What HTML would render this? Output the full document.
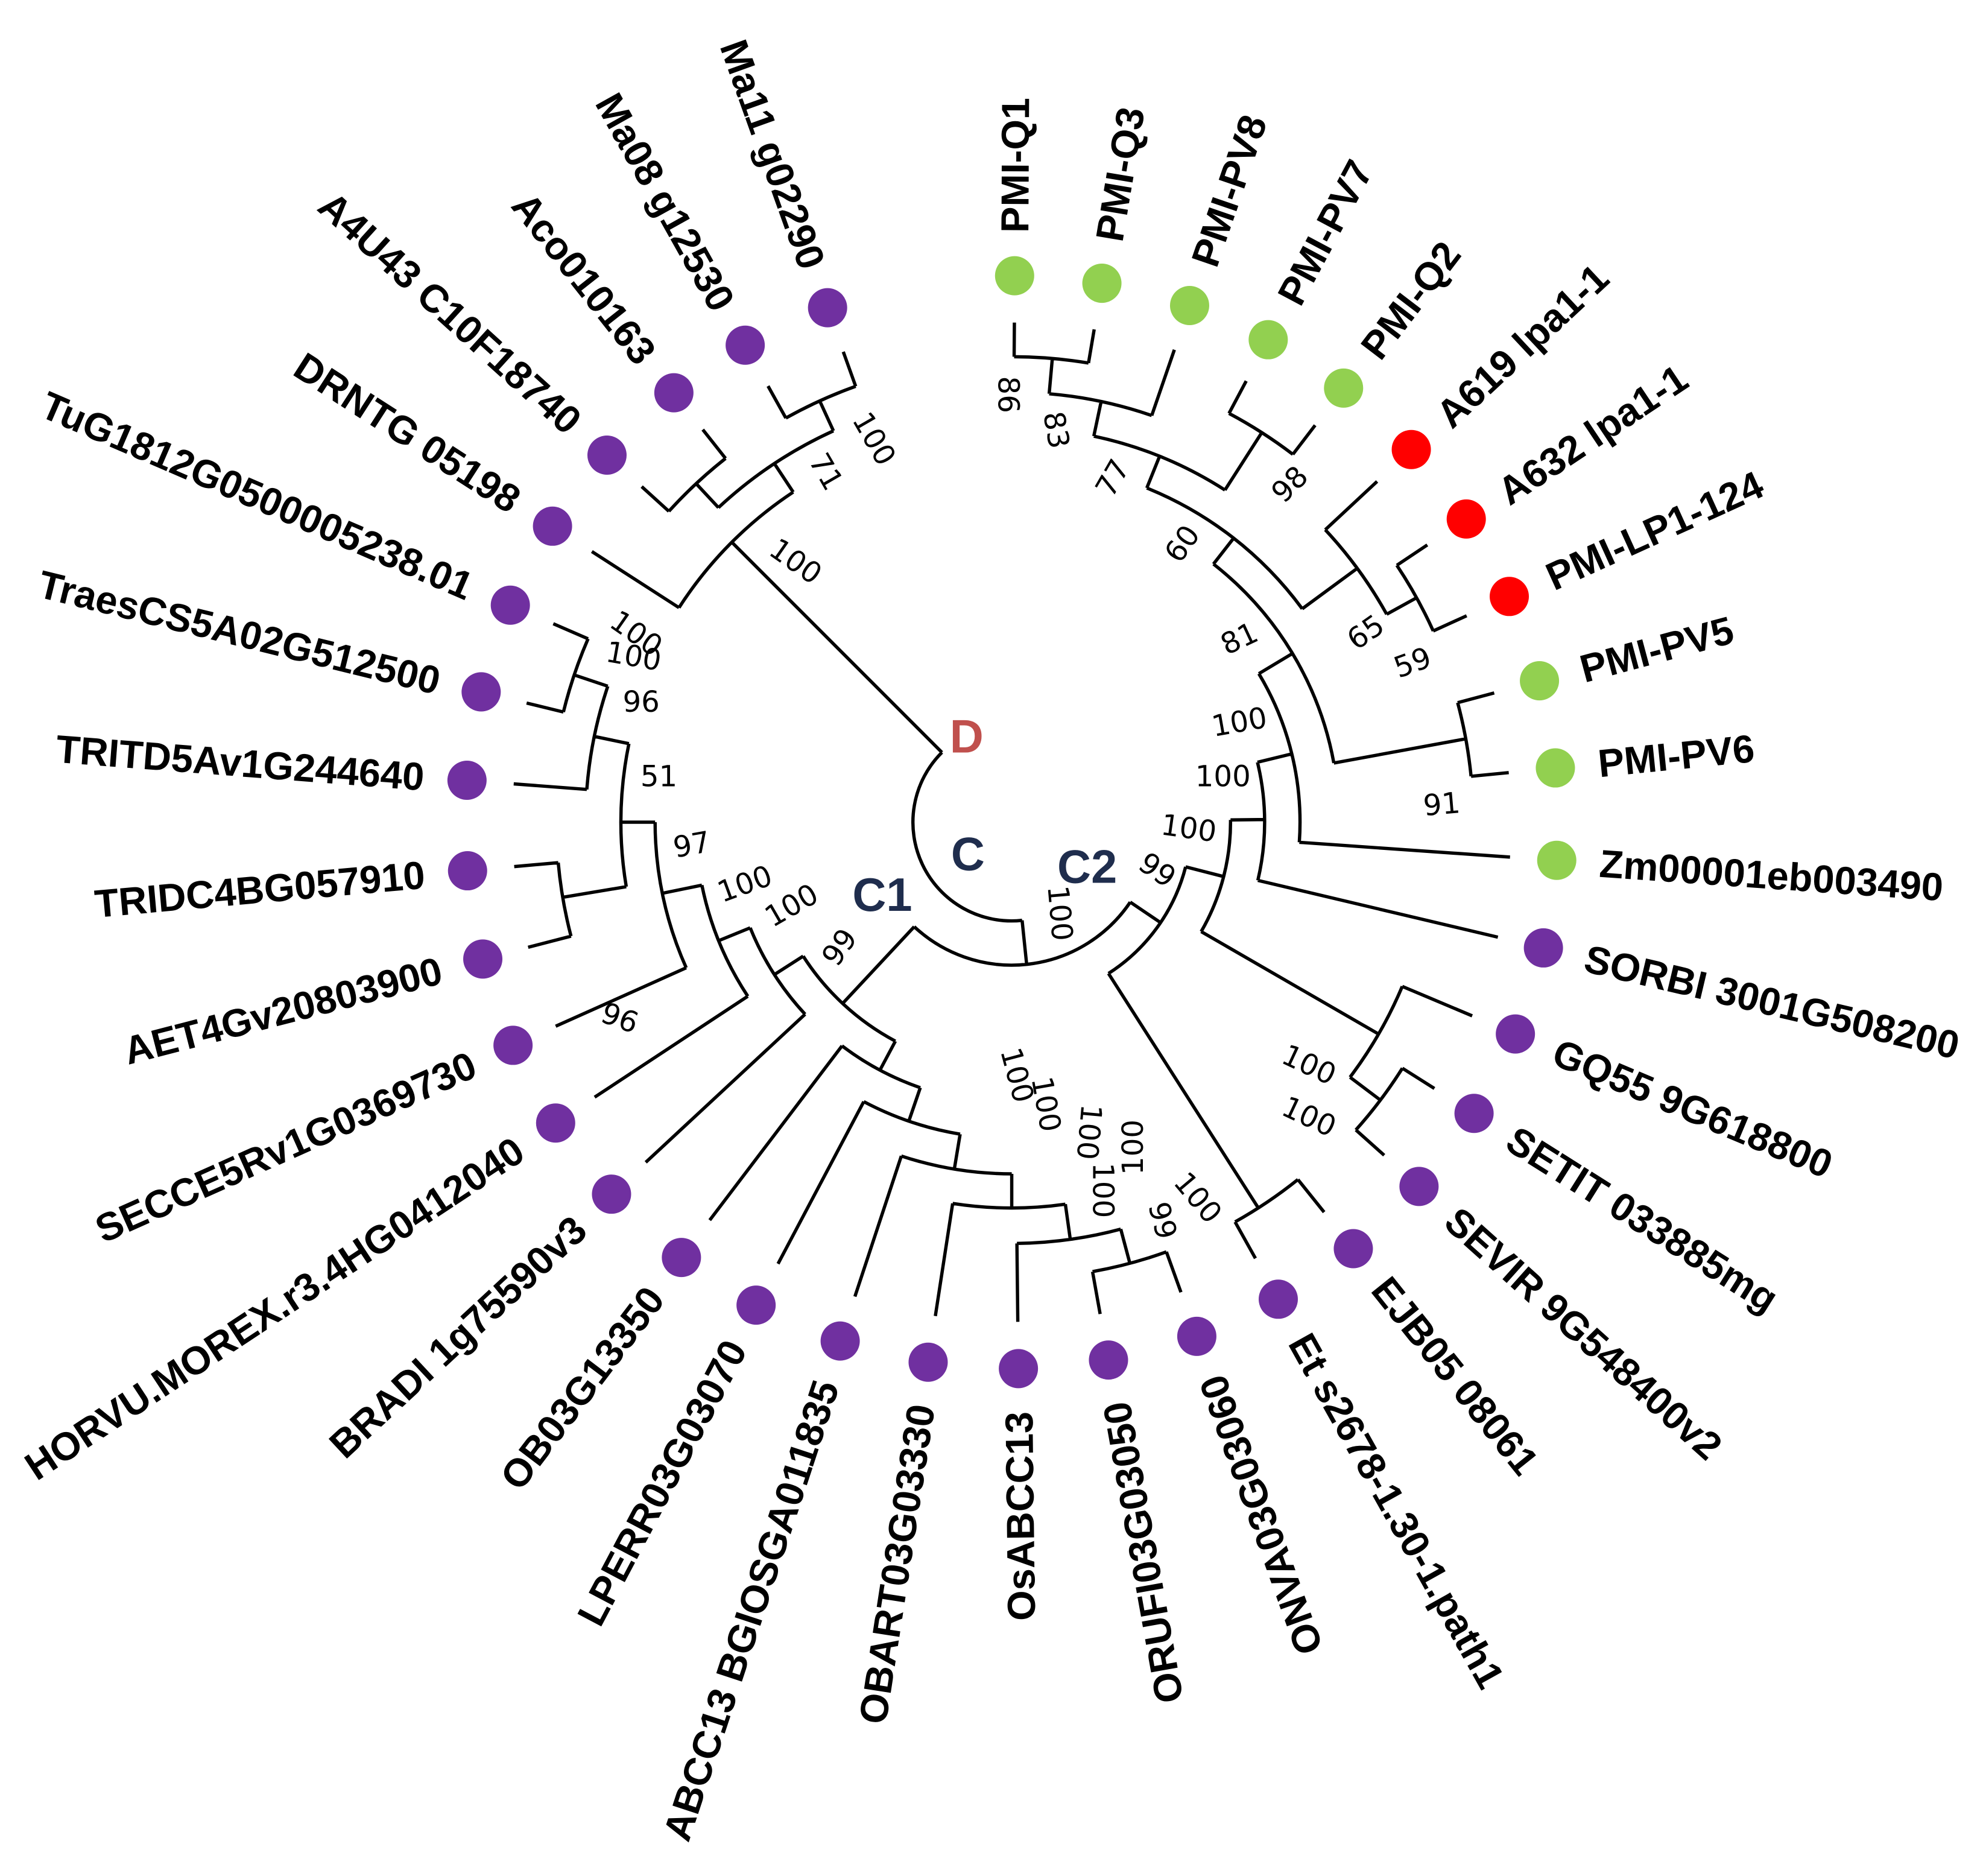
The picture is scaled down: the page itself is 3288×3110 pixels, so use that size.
<!DOCTYPE html>
<html><head><meta charset="utf-8"><style>
html,body{margin:0;padding:0;background:#fff;}
svg{display:block;}
.lf{font-family:"Liberation Sans",Arial,sans-serif;font-weight:bold;font-size:31px;fill:#000;}
.bs{font-family:"DejaVu Sans","Liberation Sans",sans-serif;font-size:23px;fill:#000;}
.cl{font-family:"Liberation Sans",sans-serif;font-weight:bold;font-size:37px;fill:#1f2d4d;}
</style></head><body>
<svg id="s" xmlns="http://www.w3.org/2000/svg" width="3288" height="3110" viewBox="0 0 1568 1483.1" preserveAspectRatio="none">
<rect width="1568" height="1483.1" fill="#fff"/>
<g id="tree" fill="none" stroke="#000" stroke-width="2.6"></g>
<g id="dots"></g>
<g id="labs"></g>
<g id="bss"></g>
<text class="cl" x="751" y="595" style="fill:#c0504d">D</text>
<text class="cl" x="752" y="688">C</text>
<text class="cl" x="674" y="720">C1</text>
<text class="cl" x="836" y="698">C2</text>
</svg>
<script>
var CX=800,CY=650,NS="http://www.w3.org/2000/svg";
function P(r,a){var t=a*Math.PI/180;return [CX+r*Math.cos(t),CY+r*Math.sin(t)];}
var d="";
function arc(r,a1,a2){var p=P(r,a1),q=P(r,a2);var sw=a2>a1?1:0,lg=Math.abs(a2-a1)>180?1:0;
d+="M"+p[0].toFixed(1)+" "+p[1].toFixed(1)+"A"+r+" "+r+" 0 "+lg+" "+sw+" "+q[0].toFixed(1)+" "+q[1].toFixed(1);}
function rad(a,r1,r2){var p=P(r1,a),q=P(r2,a);d+="M"+p[0].toFixed(1)+" "+p[1].toFixed(1)+"L"+q[0].toFixed(1)+" "+q[1].toFixed(1);}
var L=395;
var leaves=[
["PMI-Q1",-89.7,"g"],["PMI-Q3",-80.5,"g"],["PMI-PV8",-71,"g"],["PMI-PV7",-62,"g"],["PMI-Q2",-52.6,"g"],
["A619 lpa1-1",-43,"r"],["A632 lpa1-1",-33.7,"r"],["PMI-LP1-124",-24.4,"r"],["PMI-PV5",-15,"g"],["PMI-PV6",-5.7,"g"],
["Zm00001eb003490",4,"g"],["SORBI 3001G508200",13.3,"p"],["GQ55 9G618800",22.8,"p"],["SETIT 033885mg",32.2,"p"],
["SEVIR 9G548400v2",41.8,"p"],["EJB05 08061",51.3,"p"],["Et s2678-1.30-1.path1",60.8,"p"],["ONVA03G03060",70.2,"p"],
["ORUFI03G03050",79.8,"p"],["OsABCC13",89.3,"p"],["OBART03G03330",98.8,"p"],["ABCC13 BGIOSGA011835",108.3,"p"],
["LPERR03G03070",117.9,"p"],["OB03G13350",127.2,"p"],["BRADI 1g75590v3",137.1,"p"],["HORVU.MOREX.r3.4HG0412040",146.6,"p"],
["SECCE5Rv1G0369730",155.9,"p"],["AET4Gv20803900",165.5,"p"],["TRIDC4BG057910",174.9,"p"],["TRITD5Av1G244640",184.4,"p"],
["TraesCS5A02G512500",193.8,"p"],["TuG1812G0500005238.01",203.4,"p"],["DRNTG 05198",212.8,"p"],["A4U43 C10F18740",222.2,"p"],
["Aco010163",231.8,"p"],["Ma08 g12530",240.8,"p"],["Ma11 g02290",250.3,"p"]];
var col={g:"#92d050",r:"#ff0000",p:"#7030a0"};
arc(78,84,225);rad(225,78,313);
arc(313,212.8,236.5);rad(212.8,313,L);rad(236.5,313,340);
arc(340,227,245.5);rad(227,340,366);rad(245.5,340,366);
arc(366,222.2,231.8);rad(222.2,366,L);rad(231.8,366,L);
arc(366,240.8,250.3);rad(240.8,366,L);rad(250.3,366,L);
rad(84,78,113);arc(113,34,133);
rad(133,113,196);arc(196,118,147.3);
rad(118,196,222);arc(222,109,127.2);rad(127.2,222,L);
rad(109,222,250);arc(250,99.4,117.9);rad(117.9,250,L);
rad(99.4,250,278);arc(278,90,108.3);rad(108.3,278,L);
rad(90,278,305);arc(305,82,98.8);rad(98.8,305,L);
rad(82,305,333);arc(333,75,89.3);rad(89.3,333,L);
rad(75,333,361);arc(361,70.2,79.8);rad(70.2,361,L);rad(79.8,361,L);
rad(147.3,196,223);arc(223,137.1,158);rad(137.1,223,L);
rad(158,223,250);arc(250,146.6,168.5);rad(146.6,250,L);
rad(168.5,250,282);arc(282,155.9,180);rad(155.9,282,L);
rad(180,282,309);arc(309,170.5,191.6);
rad(170.5,309,360);arc(360,165.5,174.9);rad(165.5,360,L);rad(174.9,360,L);
rad(191.6,309,337);arc(337,184.4,198.6);rad(184.4,337,L);
rad(198.6,337,365);arc(365,193.8,203.4);rad(193.8,365,L);rad(203.4,365,L);
rad(34,113,142);arc(142,14.4,57.4);
rad(57.4,142,362);arc(362,51.3,60.8);rad(51.3,362,L);rad(60.8,362,L);
rad(14.4,142,173);arc(173,-0.6,30);
rad(30,173,335);arc(335,22.8,37);rad(22.8,335,L);rad(37,335,365);arc(365,32.2,41.8);rad(32.2,365,L);rad(41.8,365,L);
rad(-0.6,173,200);arc(200,-13.7,13.3);rad(13.3,200,L);
rad(-13.7,200,228);arc(228,-31,4);rad(4,228,L);
rad(-31,228,259);arc(259,-52,-10.4);rad(-10.4,259,365);arc(365,-15,-5.7);rad(-15,365,L);rad(-5.7,365,L);
rad(-52,259,285);arc(285,-68,-36.3);
rad(-36.3,285,339);arc(339,-43,-29);rad(-43,339,L);rad(-29,339,366);arc(366,-33.7,-24.4);rad(-33.7,366,L);rad(-24.4,366,L);
rad(-68,285,312);arc(312,-78,-57.3);
rad(-57.3,312,366);arc(366,-62,-52.6);rad(-62,366,L);rad(-52.6,366,L);
rad(-78,312,340);arc(340,-85,-71);rad(-71,340,L);
rad(-85,340,368);arc(368,-89.7,-80.5);rad(-89.7,368,L);rad(-80.5,368,L);
var pth=document.createElementNS(NS,"path");pth.setAttribute("d",d);document.getElementById("tree").appendChild(pth);
var dg=document.getElementById("dots"),lg=document.getElementById("labs");
leaves.forEach(function(l){
 var p=P(432,l[1]);var c=document.createElementNS(NS,"circle");
 c.setAttribute("cx",p[0]);c.setAttribute("cy",p[1]);c.setAttribute("r",15.5);c.setAttribute("fill",col[l[2]]);dg.appendChild(c);
 var q=P(466,l[1]);var t=document.createElementNS(NS,"text");t.setAttribute("class","lf");
 t.setAttribute("x",q[0]);t.setAttribute("y",q[1]);t.setAttribute("dominant-baseline","central");
 var a=l[1];if(a>65){t.setAttribute("text-anchor","end");a=a-180;}else{t.setAttribute("text-anchor","start");}
 t.setAttribute("transform","rotate("+a+" "+q[0]+" "+q[1]+")");t.textContent=l[0];lg.appendChild(t);
});
var bs=[
["100",691,347,60],["71",653,373,60],["100",629,444,35],["100",503,501,35],["100",501,519,10],["96",507,555,0],["51",521,614,0],
["97",547,668,-10],["100",589,699,-20],["100",626,716,-30],["99",664,749,-55],["96",490,805,20],
["86",797,312,90],["83",835,340,80],["77",880,378,-60],["98",1020,383,-45],["60",935,430,-55],["81",980,505,-25],
["65",1080,500,-35],["59",1117,524,-20],["100",980,571,-10],["100",967,614,0],["100",940,655,8],["99",915,688,35],
["100",838,722,85],["91",1140,636,-5],["100",1035,842,25],["100",1035,883,25],
["100",804,850,75],["100",827,873,80],["100",861,895,95],["100",896,907,-90],["100",872,941,90],["99",919,965,75],["100",947,947,50]];
var bg=document.getElementById("bss");
bs.forEach(function(b){var t=document.createElementNS(NS,"text");t.setAttribute("class","bs");
 t.setAttribute("x",b[1]);t.setAttribute("y",b[2]);t.setAttribute("text-anchor","middle");t.setAttribute("dominant-baseline","central");
 t.setAttribute("transform","rotate("+b[3]+" "+b[1]+" "+b[2]+")");t.textContent=b[0];bg.appendChild(t);});
</script>
</body></html>
